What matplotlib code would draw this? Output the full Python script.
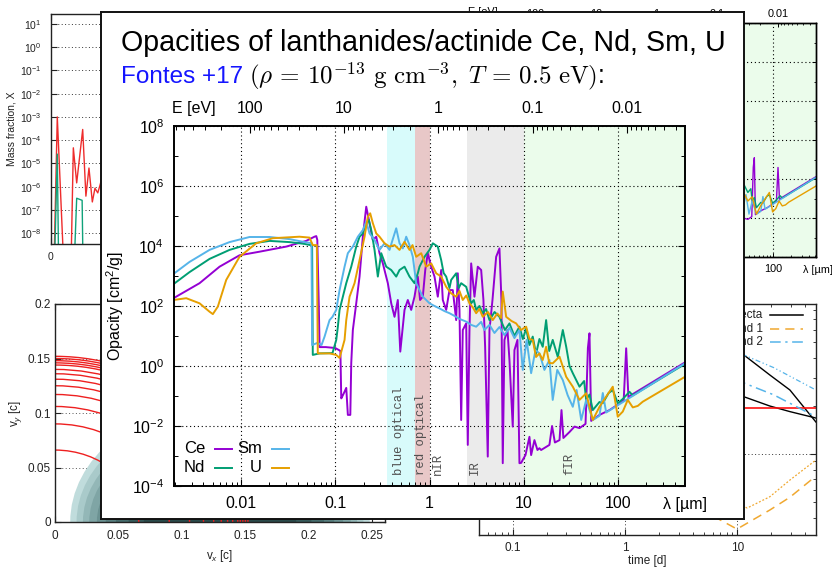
import numpy as np
import matplotlib
matplotlib.use('Agg')
import matplotlib.pyplot as plt
from matplotlib.patches import Arc, Ellipse
from matplotlib.ticker import FixedLocator, FuncFormatter, NullFormatter, NullLocator

plt.rcParams['font.family'] = ['Liberation Sans', 'DejaVu Sans']
plt.rcParams['mathtext.fontset'] = 'custom'
plt.rcParams['mathtext.rm'] = 'Liberation Sans'
plt.rcParams['mathtext.it'] = 'Liberation Sans:italic'
plt.rcParams['mathtext.bf'] = 'Liberation Sans:bold'

# ---------------- data: main chart (log10 lambda [um], log10 opacity [cm^2/g]) ----------------
ce_spectrum = [
    (-2.715, 2.26), (-2.439, 2.76), (-2.227, 3.31), (-2.015, 3.69), (-1.803, 3.81), (-1.520, 3.98),
    (-1.308, 4.17), (-1.220, 4.31), (-1.201, 4.33), (-1.190, 4.20), (-1.182, 3.10), (-1.174, 2.00),
    (-1.166, 0.63), (-1.100, 0.63), (-1.000, 0.60), (-0.960, 0.53), (-0.945, 0.50), (-0.936, -1.08),
    (-0.918, -0.97), (-0.900, -0.85), (-0.883, -0.73), (-0.866, -1.63), (-0.840, -1.63), (-0.830, 0.10),
    (-0.813, 1.20), (-0.777, 2.09), (-0.742, 2.98), (-0.707, 4.31), (-0.671, 5.31), (-0.636, 4.76),
    (-0.601, 4.20), (-0.565, 4.31), (-0.530, 3.76), (-0.495, 3.42), (-0.442, 2.76), (-0.406, 2.09),
    (-0.371, 1.64), (-0.336, 2.20), (-0.310, 0.48), (-0.265, 1.87), (-0.230, 2.20), (-0.194, 1.87),
    (-0.159, 2.31), (-0.124, 2.98), (-0.100, 2.20), (-0.071, 2.31), (-0.045, 3.20), (-0.018, 3.76),
    (0.018, 3.31), (0.053, 2.98), (0.088, 2.31), (0.124, 3.20), (0.141, 2.20), (0.177, 1.87),
    (0.212, 2.53), (0.247, 2.53), (0.283, 1.53), (0.300, 3.09), (0.318, 1.87), (0.336, -1.80),
    (0.353, 1.20), (0.389, 1.42), (0.406, -2.63), (0.424, 1.20), (0.442, 3.42), (0.477, 2.31),
    (0.512, 3.31), (0.548, 3.20), (0.572, 2.20), (0.590, 0.64), (0.618, -3.02), (0.636, 1.20),
    (0.668, 2.20), (0.707, 3.64), (0.742, 3.92), (0.763, 2.20), (0.777, -3.24), (0.795, 0.87),
    (0.827, 1.20), (0.848, 0.20), (0.883, -2.02), (0.901, 0.53), (0.933, 0.87), (0.954, -3.24),
    (0.972, -3.23), (0.989, -3.13), (1.018, -2.97), (1.060, -2.36), (1.078, -2.97), (1.113, -2.47),
    (1.145, -2.80), (1.166, -2.74), (1.184, -2.80), (1.272, -2.63), (1.300, -2.00), (1.330, -2.55),
    (1.379, -2.47), (1.400, -1.47), (1.420, -2.40), (1.485, -2.20), (1.538, -2.02), (1.591, -2.07),
    (1.655, -1.93), (1.680, 0.60), (1.697, 1.09), (1.715, -1.83), (1.803, -1.63), (1.909, -1.47),
    (2.015, -1.25), (2.060, -1.13), (2.086, 0.59), (2.110, -1.05), (2.139, -0.97), (2.710, 0.12)]

nd_spectrum = [
    (-2.715, 2.73), (-2.545, 3.13), (-2.333, 3.57), (-2.121, 3.87), (-1.909, 4.07), (-1.697, 4.17),
    (-1.485, 4.13), (-1.326, 4.07), (-1.262, 4.03), (-1.245, 4.00), (-1.238, 0.37), (-1.166, 0.42),
    (-1.029, 0.43), (-0.989, 0.87), (-0.972, 1.31), (-0.954, 1.87), (-0.883, 2.76), (-0.830, 3.31),
    (-0.777, 3.98), (-0.742, 4.31), (-0.707, 4.42), (-0.671, 4.76), (-0.644, 4.87), (-0.618, 4.53),
    (-0.583, 3.87), (-0.548, 2.98), (-0.512, 3.76), (-0.459, 3.31), (-0.406, 3.20), (-0.353, 2.98),
    (-0.318, 3.20), (-0.265, 3.31), (-0.212, 2.98), (-0.159, 2.76), (-0.124, 3.09), (-0.106, 3.31),
    (-0.053, 3.64), (0.000, 3.87), (0.035, 4.09), (0.088, 3.98), (0.124, 3.53), (0.150, 3.10),
    (0.177, 2.98), (0.212, 2.60), (0.230, 2.87), (0.283, 3.09), (0.310, 2.60), (0.336, 2.76),
    (0.389, 2.64), (0.420, 2.30), (0.442, 2.09), (0.470, 2.20), (0.495, 1.87), (0.530, 2.00),
    (0.565, 1.76), (0.600, 1.90), (0.636, 1.53), (0.690, 1.80), (0.742, 1.64), (0.800, 1.20),
    (0.848, 1.42), (0.900, 1.00), (0.954, 1.31), (0.990, 0.90), (1.025, 1.25), (1.060, 0.70),
    (1.095, 0.98), (1.130, 0.40), (1.166, 0.90), (1.201, 0.64), (1.237, 1.53), (1.270, 0.50),
    (1.307, 0.87), (1.361, 0.30), (1.414, 1.20), (1.450, 0.64), (1.485, 0.00), (1.520, -0.24),
    (1.591, -0.69), (1.640, -0.50), (1.662, -1.13), (1.697, -0.95), (1.732, -1.47), (1.803, -1.20),
    (1.838, -1.24), (1.900, -0.90), (1.944, -0.80), (1.997, -1.24), (2.050, -1.10), (2.121, -0.86),
    (2.156, -0.98), (2.710, 0.07)]

sm_spectrum = [
    (-2.715, 3.07), (-2.545, 3.47), (-2.333, 3.87), (-2.121, 4.13), (-1.909, 4.30), (-1.697, 4.30),
    (-1.485, 4.23), (-1.326, 4.13), (-1.262, 4.10), (-1.252, 4.10), (-1.245, 0.70), (-1.188, 0.77),
    (-1.145, 0.70), (-1.113, 0.98), (-1.092, 1.20), (-1.060, 1.53), (-1.029, 1.64), (-0.989, 1.87),
    (-0.954, 2.53), (-0.901, 3.31), (-0.866, 3.76), (-0.813, 3.98), (-0.760, 4.31), (-0.707, 4.53),
    (-0.671, 4.81), (-0.636, 4.42), (-0.583, 4.20), (-0.530, 3.87), (-0.477, 4.09), (-0.424, 3.87),
    (-0.392, 4.20), (-0.353, 4.59), (-0.318, 4.09), (-0.283, 3.92), (-0.247, 4.31), (-0.212, 4.03),
    (-0.177, 3.64), (-0.141, 2.76), (-0.106, 2.53), (-0.071, 2.31), (-0.035, 2.20), (0.000, 2.09),
    (0.053, 2.00), (0.106, 1.92), (0.159, 1.83), (0.212, 1.76), (0.265, 1.67), (0.318, 1.57),
    (0.389, 1.48), (0.442, 1.37), (0.495, 1.31), (0.548, 1.47), (0.583, 1.20), (0.636, 1.37),
    (0.689, 1.10), (0.742, 1.30), (0.795, 1.03), (0.848, 1.27), (0.901, 0.93), (0.954, 1.20),
    (0.989, -0.13), (1.030, 0.87), (1.078, -0.24), (1.124, 0.53), (1.166, 0.42), (1.219, -0.13),
    (1.272, 0.20), (1.307, -1.13), (1.355, -0.13), (1.414, -0.47), (1.465, -0.97), (1.520, -1.36),
    (1.560, -0.80), (1.609, -1.80), (1.662, -1.13), (1.732, -1.80), (1.803, -1.66), (1.838, -0.90),
    (1.874, -1.55), (2.710, 0.09)]

u_spectrum = [
    (-2.715, 2.20), (-2.580, 2.26), (-2.439, 2.09), (-2.333, 1.81), (-2.298, 1.73), (-2.245, 1.98),
    (-2.156, 2.87), (-2.015, 3.64), (-1.838, 4.09), (-1.662, 4.26), (-1.379, 4.31), (-1.273, 4.28),
    (-1.238, 4.03), (-1.195, 4.03), (-1.185, 0.42), (-1.060, 0.42), (-0.990, 0.37), (-0.954, 0.27),
    (-0.936, 0.47), (-0.901, 0.87), (-0.883, 1.53), (-0.848, 2.31), (-0.795, 2.76), (-0.742, 3.53),
    (-0.689, 4.31), (-0.654, 4.98), (-0.629, 5.09), (-0.601, 4.76), (-0.565, 4.42), (-0.530, 4.31),
    (-0.477, 4.09), (-0.424, 3.98), (-0.371, 4.03), (-0.318, 3.87), (-0.265, 4.14), (-0.212, 3.87),
    (-0.180, 4.03), (-0.141, 3.64), (-0.088, 3.76), (-0.035, 3.31), (0.018, 3.42), (0.071, 3.09),
    (0.124, 2.98), (0.177, 2.64), (0.230, 2.42), (0.283, 2.31), (0.318, 2.50), (0.353, 2.20),
    (0.390, 2.35), (0.424, 2.09), (0.460, 1.95), (0.495, 1.76), (0.530, 1.90), (0.565, 1.64),
    (0.620, 1.80), (0.671, 1.53), (0.720, 1.75), (0.760, 1.60), (0.777, 2.48), (0.813, 1.64),
    (0.870, 1.50), (0.919, 1.42), (0.970, 1.20), (1.025, 1.31), (1.060, 0.90), (1.095, 0.87),
    (1.130, 0.30), (1.166, 0.42), (1.201, 0.20), (1.237, 0.64), (1.270, 0.10), (1.307, 0.09),
    (1.379, 0.31), (1.450, -0.36), (1.520, -0.69), (1.591, -1.13), (1.662, -0.91), (1.732, -1.80),
    (1.803, -1.36), (1.874, -1.02), (1.944, -0.69), (1.997, -1.69), (2.050, -1.52), (2.103, -1.13),
    (2.156, -1.38), (2.209, -1.33), (2.262, -1.19), (2.710, -0.36)]

series_names = ['Ce', 'Nd', 'Sm', 'U']
series_colors = ['#9400d3', '#009e73', '#56b4e9', '#e69f00']

# wavelength bands [um]
band_labels = ['blue optical', 'red optical', 'nIR', 'IR', 'fIR']
band_edges = [(0.35, 0.7), (0.7, 1.0), (1.0, 2.5), (2.5, 10.0), (10.0, 600.0)]
band_colors = ['#d8fbfb', '#e8c8c8', '#ffffff', '#ebebeb', '#ebfceb']
band_label_pos = [0.47, 0.82, 1.22, 3.0, 30.5]

lam_ticks = [0.01, 0.1, 1, 10, 100]
e_ticks = [100, 10, 1, 0.1, 0.01]

# ---------------- data: background panels ----------------
mass_A = [1.2, 4.5, 11.0, 13.5, 16.0, 18.4, 22.7, 25.0, 27.2, 29.6, 31.5, 33.5, 35.1, 37.0, 40.0, 44.0, 48.0, 52.0]
mass_red_logX = [-12, -3.0, -12, -12, -4.33, -5.84, -3.54, -6.41, -5.2, -6.66, -6.07, -6.27, -5.94, -5.5, -6.0, -5.2, -6.3, -5.0]
mass_green_A = [1.4, 4.5, 6.0, 15.0, 18.4, 22.3, 23.5]
mass_green_logX = [-12, -4.6, -12, -12, -6.5, -6.59, -12]

arc_radii = [0.152, 0.150, 0.148, 0.146, 0.144, 0.140, 0.136, 0.131, 0.125, 0.117, 0.106, 0.090, 0.066]
blob_cx = 0.13
blob_a = [0.118, 0.113, 0.108, 0.103, 0.097, 0.090, 0.082, 0.072, 0.060]
blob_b = [0.108, 0.100, 0.092, 0.085, 0.077, 0.069, 0.060, 0.050, 0.040]
blob_colors = ['#c0dcdc', '#a9caca', '#93b7b7', '#7fa5a5', '#6b9292', '#587f7f', '#466c6c', '#365a5a', '#2a4a4a']

t_black1 = [1.0, 5.0, 11.4, 19.4, 29.3, 49.9]
v_black1 = [-0.15, -0.28, -0.381, -0.506, -0.60, -0.80]
t_black2 = [1.0, 5.0, 11.4, 19.4, 29.3, 49.9]
v_black2 = [-0.50, -0.60, -0.642, -0.70, -0.735, -0.775]
t_red = [0.05, 50.0]
v_red = [-0.714, -0.714]
t_blue_dot = [1.0, 11.4, 21.0, 49.9]
v_blue_dot = [-0.20, -0.381, -0.46, -0.60]
t_blue_dd = [1.0, 11.4, 21.0, 49.9]
v_blue_dd = [-0.45, -0.556, -0.63, -0.767]
t_or_dot = [3.0, 7.0, 12.2, 19.4, 29.3, 49.9]
v_or_dot = [-1.0, -1.25, -1.3375, -1.267, -1.1625, -1.0375]
t_or_dash = [3.0, 6.3, 9.9, 19.4, 29.3, 49.9]
v_or_dash = [-1.20, -1.394, -1.469, -1.35, -1.27, -1.1375]

W, H = 832, 569
def rect(l, t, r, b):
    return [l / W, 1 - b / H, (r - l) / W, (b - t) / H]

def sci(v, pos):
    e = int(round(np.log10(v)))
    return r'$\mathdefault{10^{%d}}$' % e

def minor_log(lo, hi):
    out = []
    for d in range(lo, hi):
        for k in range(2, 10):
            out.append(k * 10.0 ** d)
    return out

DOT = (0, (1, 2.5))
fig = plt.figure(figsize=(8.32, 5.69), dpi=100)

def bg_style(ax, fs=8.5):
    ax.tick_params(which='both', direction='in', top=True, right=True, labelsize=fs, colors='#222222')
    ax.tick_params(which='major', length=4, width=0.8, pad=6)
    ax.tick_params(which='minor', length=2, width=0.6)
    for s in ax.spines.values():
        s.set_linewidth(1.0)
        s.set_color('#222222')

# ---- top-left: mass fraction ----
ax_m = fig.add_axes(rect(51, 14, 400, 244))
ax_m.set_zorder(1)
ax_m.plot(mass_A, 10.0 ** np.array(mass_red_logX), color='#ee2c2c', lw=1.0)
ax_m.plot(mass_green_A, 10.0 ** np.array(mass_green_logX), color='#10a27a', lw=1.0)
ax_m.set_yscale('log')
ax_m.set_xlim(0, 250)
ax_m.set_ylim(10 ** -8.47, 10 ** 1.43)
ax_m.yaxis.set_major_locator(FixedLocator([10.0 ** k for k in range(-8, 2)]))
ax_m.yaxis.set_minor_locator(NullLocator())
ax_m.yaxis.set_major_formatter(FuncFormatter(sci))
ax_m.set_xticks([0, 50, 100, 150, 200, 250])
ax_m.set_xticklabels(['0', '', '', '', '', ''])   # the others lie under the front panel
bg_style(ax_m, fs=7.5)
ax_m.tick_params(axis='y', pad=7)
ax_m.grid(axis='y', color='#333333', linestyle=DOT, lw=0.7)
ax_m.set_ylabel('Mass fraction, X', fontsize=7.5, labelpad=2, color='#222222')

# ---- bottom-left: velocity plane ----
ax_v = fig.add_axes(rect(55, 304, 385, 522))
ax_v.set_zorder(1)
ax_v.set_axisbelow(True)
for a, b, c in zip(blob_a, blob_b, blob_colors):
    ax_v.add_patch(Ellipse((blob_cx, 0.0), 2 * a, 2 * b, facecolor=c, edgecolor='none', zorder=1))
for r in arc_radii:
    ax_v.add_patch(Arc((0.0, 0.0), 2 * r, 2 * r, theta1=0, theta2=90, color='#ee2020', lw=1.0, zorder=2))
ax_v.set_xlim(0, 0.26)
ax_v.set_ylim(0, 0.2)
ax_v.set_xticks([0, 0.05, 0.1, 0.15, 0.2, 0.25])
ax_v.set_xticklabels(['0', '0.05', '0.1', '0.15', '0.2', '0.25'])
ax_v.set_yticks([0, 0.05, 0.1, 0.15, 0.2])
ax_v.set_yticklabels(['0', '0.05', '0.1', '0.15', '0.2'])
bg_style(ax_v)
ax_v.tick_params(axis='y', pad=3)
ax_v.grid(axis='y', color='#555555', linestyle=DOT, lw=0.7)
ax_v.set_xlabel('v$_x$ [c]', fontsize=8.5, labelpad=4, color='#222222')
ax_v.set_ylabel('v$_y$ [c]', fontsize=8.5, labelpad=3, color='#222222')

# ---- bottom-right: time evolution ----
ax_t = fig.add_axes(rect(479, 304, 816, 535))
ax_t.set_zorder(1)
ax_t.plot(t_black1, 10.0 ** np.array(v_black1), color='black', lw=1.0)
ax_t.plot(t_black2, 10.0 ** np.array(v_black2), color='black', lw=1.0)
ax_t.plot(t_red, 10.0 ** np.array(v_red), color='#ff1010', lw=1.2)
ax_t.plot(t_blue_dot, 10.0 ** np.array(v_blue_dot), color='#56b4e9', lw=0.9, linestyle=(0, (4, 2, 1, 2, 1, 2)))
ax_t.plot(t_blue_dd, 10.0 ** np.array(v_blue_dd), color='#56b4e9', lw=1.1, linestyle=(0, (7, 3, 1.5, 3)))
ax_t.plot(t_or_dot, 10.0 ** np.array(v_or_dot), color='#f0a830', lw=0.9, linestyle=(0, (1.5, 1.5)))
ax_t.plot(t_or_dash, 10.0 ** np.array(v_or_dash), color='#f0a830', lw=1.1, linestyle=(0, (6, 4)))
ax_t.set_xscale('log')
ax_t.set_yscale('log')
ax_t.set_xlim(0.05, 50)
ax_t.set_ylim(10 ** -1.506, 10 ** -0.0625)
ax_t.xaxis.set_major_locator(FixedLocator([0.1, 1, 10]))
ax_t.xaxis.set_major_formatter(FuncFormatter(lambda v, p: '%g' % v))
ax_t.xaxis.set_minor_locator(FixedLocator(minor_log(-2, 2)))
ax_t.xaxis.set_minor_formatter(NullFormatter())
ax_t.yaxis.set_major_locator(FixedLocator([0.1]))
ax_t.yaxis.set_major_formatter(NullFormatter())
ax_t.yaxis.set_minor_locator(FixedLocator(minor_log(-2, 1)))
ax_t.yaxis.set_minor_formatter(NullFormatter())
bg_style(ax_t)
ax_t.tick_params(axis='x', pad=5)
ax_t.grid(which='major', color='#333333', linestyle=DOT, lw=0.7)
ax_t.set_xlabel('time [d]', fontsize=8.5, labelpad=1, color='#222222')
leg_rows = [('ejecta', 'black', '-'), ('band 1', '#f0a830', (0, (6, 4))), ('band 2', '#56b4e9', (0, (7, 3, 1.5, 3)))]
for i, (lab, col, ls) in enumerate(leg_rows):
    yy = [0.952, 0.892, 0.835][i]
    ax_t.text(0.843, yy, lab, transform=ax_t.transAxes, ha='right', va='center', fontsize=8.5, color='#222222')
    ax_t.plot([0.8635, 0.9614], [yy, yy], transform=ax_t.transAxes, color=col, lw=1.1, linestyle=ls)

# ---- opacity chart helper ----
spectra = [ce_spectrum, nd_spectrum, sm_spectrum, u_spectrum]
XMIN, XMAX = 10 ** -2.71, 10 ** 2.71

def opacity_axes(ax, lw, fs):
    for (lo, hi), c in zip(band_edges, band_colors):
        ax.axvspan(lo, hi, color=c, lw=0, zorder=0.5)
    for spec, col in zip(spectra, series_colors):
        lam = 10.0 ** np.array([p[0] for p in spec])
        kap = 10.0 ** np.array([p[1] for p in spec])
        ax.plot(lam, kap, color=col, lw=lw, zorder=2)
    ax.set_xscale('log')
    ax.set_yscale('log')
    ax.set_xlim(XMIN, XMAX)
    ax.set_ylim(1e-4, 1e8)
    ax.xaxis.set_major_locator(FixedLocator(lam_ticks))
    ax.xaxis.set_major_formatter(FuncFormatter(lambda v, p: '%g' % v))
    ax.xaxis.set_minor_locator(FixedLocator(minor_log(-3, 3)))
    ax.xaxis.set_minor_formatter(NullFormatter())
    ax.yaxis.set_major_locator(FixedLocator([10.0 ** k for k in (-4, -2, 0, 2, 4, 6, 8)]))
    ax.yaxis.set_major_formatter(FuncFormatter(sci))
    ax.yaxis.set_minor_locator(FixedLocator([10.0 ** k for k in (-3, -1, 1, 3, 5, 7)]))
    ax.yaxis.set_minor_formatter(NullFormatter())
    ax.grid(which='major', color='black', linestyle=DOT, lw=0.8)
    ax.tick_params(which='both', direction='in', top=False, right=True, labelsize=fs)
    ax2 = ax.twiny()
    ax2.set_xscale('log')
    ax2.set_xlim(1.2398 / XMIN, 1.2398 / XMAX)
    ax2.xaxis.set_major_locator(FixedLocator(e_ticks))
    ax2.xaxis.set_major_formatter(FuncFormatter(lambda v, p: '%g' % v))
    ax2.xaxis.set_minor_locator(FixedLocator(minor_log(-3, 3)))
    ax2.xaxis.set_minor_formatter(NullFormatter())
    ax2.tick_params(which='both', direction='in', labelsize=fs)
    return ax2

# ---- top-right: small copy of the opacity chart ----
ax_s = fig.add_axes(rect(486, 23, 816, 257))
ax_s.set_zorder(1)
ax_s2 = opacity_axes(ax_s, 1.0, 7.8)
ax_s2.set_zorder(1.1)
for a in (ax_s, ax_s2):
    a.tick_params(which='major', length=3, width=0.7, pad=5)
    a.tick_params(which='minor', length=1.5, width=0.6)
    for s in a.spines.values():
        s.set_linewidth(1.0)
ax_s2.tick_params(which='major', pad=3)
ax_s.tick_params(axis='y', labelleft=False)          # fully under the front panel
ax_s.xaxis.set_major_formatter(FuncFormatter(lambda v, p: '100' if abs(v - 100) < 1 else ''))
ax_s.text(-0.009, 1.045, 'E [eV]', transform=ax_s.transAxes, ha='center', va='center', fontsize=7.8)
ax_s.text(1.006, -0.0556, '\u03bb [\u00b5m]', transform=ax_s.transAxes, ha='center', va='center', fontsize=7.8)

# ---- main white panel ----
panel = fig.add_axes(rect(101, 12, 744, 519))
panel.set_zorder(5)
panel.set_facecolor('white')
panel.set_xticks([])
panel.set_yticks([])
for s in panel.spines.values():
    s.set_linewidth(1.4)
    s.set_color('#111111')

# ---- main chart ----
ax = fig.add_axes(rect(174, 126, 685, 486))
ax.set_zorder(6)
ax2 = opacity_axes(ax, 1.4, 11.5)
ax2.set_zorder(7)
for a in (ax, ax2):
    a.tick_params(which='major', length=5, width=0.8, pad=7)
    a.tick_params(which='minor', length=3, width=0.7)
    for s in a.spines.values():
        s.set_linewidth(1.2)

for lab, xpos in zip(band_labels, band_label_pos):
    ax.text(xpos, 2.3e-4, lab, rotation=90, ha='center', va='bottom', family='Liberation Mono',
            fontsize=8.8, color='#505050', zorder=3)

# legend (label before sample line, gnuplot style)
leg_pos = [(0.0607, 0.1028, 0.0802), (0.0607, 0.05, 0.0802), (0.1722, 0.1028, 0.1918), (0.1722, 0.05, 0.1918)]
for name, col, (tx, ty, lx) in zip(series_names, series_colors, leg_pos):
    ax.text(tx, ty, name, transform=ax.transAxes, ha='right', va='center', fontsize=12, zorder=4)
    ax.plot([lx, lx + 0.0333], [ty, ty], transform=ax.transAxes, color=col, lw=1.4, zorder=4)

ZT = 20
fig.text(685 / W, 1 - 504 / H, '\u03bb [\u00b5m]', ha='center', va='center', fontsize=11.5, zorder=ZT)
fig.text(194 / W, 1 - 108 / H, 'E [eV]', ha='center', va='center', fontsize=11.5, zorder=ZT)
fig.text(115 / W, 1 - 306 / H, 'Opacity [cm$^2$/g]', rotation=90, ha='center', va='center', fontsize=11.5, zorder=ZT)

# ---- title ----
fig.text(121 / W, 1 - 51 / H, 'Opacities of lanthanides/actinide Ce, Nd, Sm, U', fontsize=20.6,
         va='baseline', zorder=ZT)
t1 = fig.text(121 / W, 1 - 83 / H, 'Fontes +17', color='#1515ff', fontsize=17.5, va='baseline', zorder=ZT)
renderer = fig.canvas.get_renderer()
bb = t1.get_window_extent(renderer=renderer)
fig.text((bb.x1 + 6) / fig.bbox.width, 1 - 83 / H,
         r'$(\rho\, =\, 10^{-13}\ \mathrm{g\ cm^{-3}},\ T\, =\, 0.5\ \mathrm{eV})$:',
         math_fontfamily='cm', fontsize=18, va='baseline', zorder=ZT)

fig.savefig('out.png', dpi=100)
